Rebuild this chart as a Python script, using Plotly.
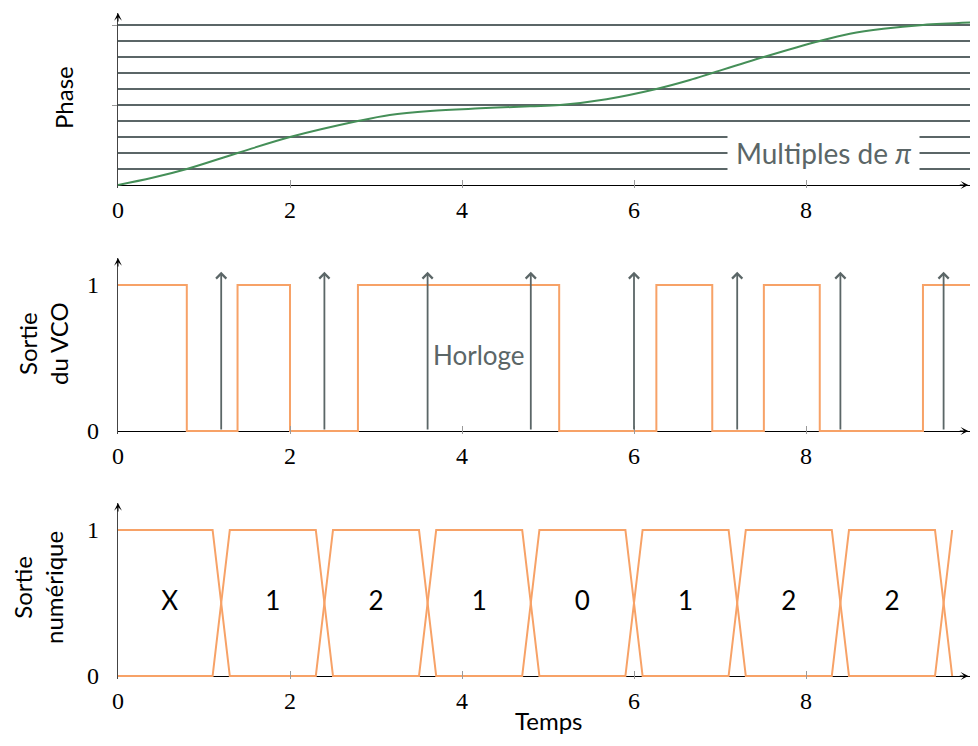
import plotly.graph_objects as go

# la page ajoute une marge de 8 px autour du graphique
OFF = 8
W, H = 978 - 2 * OFF, 746 - 2 * OFF
X0, XSCALE = 118, 86  # position de t=0 et pixels par unite (reference)

# ---- data ----
temps_ticks = [0, 2, 4, 6, 8]

phase_t = [0, 0.4, 0.80, 1.39, 2.0, 2.79, 3.16, 3.63, 4.21, 4.79, 5.14, 5.68,
           6.26, 6.65, 6.91, 7.51, 8.16, 8.51, 8.9, 9.36, 10]
phase_val = [0, 0.45, 1, 2, 3, 4, 4.38, 4.63, 4.79, 4.92, 5, 5.36,
             6, 6.56, 7, 8, 9, 9.45, 9.76, 10, 10.17]
multiples_pi = [1, 2, 3, 4, 5, 6, 7, 8, 9, 10]

# sortie du VCO (creneaux)
vco_t = [0, 0.80, 1.39, 2.0, 2.79, 5.13, 6.26, 6.91, 7.51, 8.16, 9.36, 10]
vco_level = [1, 0, 1, 0, 1, 0, 1, 0, 1, 0, 1, 1]

# fronts d'horloge
horloge_t = [1.2, 2.4, 3.6, 4.8, 6.0, 7.2, 8.4, 9.6]

# symboles de la sortie numerique
symboles = ["X", "1", "2", "1", "0", "1", "2", "2"]

# ---- styles ----
GRAY = "#5b6667"
ORANGE = "#f7a267"
GREEN = "#458f58"
SANS = "Lato"
SERIF = "Liberation Serif"
half = 0.1  # demi-largeur des transitions


def px(p):
    return (p - OFF) / W


def py(p):
    return 1 - (p - OFF) / H


x_end = (OFF + W - X0) / XSCALE  # bord droit visible

fig = go.Figure()

# -- panneau 1 : phase --
mx, my = [], []
for k in multiples_pi:
    mx += [0, 10, None]
    my += [k, k, None]
fig.add_trace(go.Scatter(x=mx, y=my, mode="lines", line=dict(color=GRAY, width=2),
                         xaxis="x", yaxis="y", hoverinfo="skip"))
fig.add_trace(go.Scatter(x=phase_t, y=phase_val, mode="lines",
                         line=dict(color=GREEN, width=2, shape="spline", smoothing=1),
                         xaxis="x", yaxis="y"))

# -- panneau 2 : VCO --
fig.add_trace(go.Scatter(x=vco_t, y=vco_level, mode="lines",
                         line=dict(color=ORANGE, width=2, shape="hv"),
                         xaxis="x2", yaxis="y2"))

# -- panneau 3 : diagramme de l'oeil --
for start in (1, 0):
    ex, ey = [0], [start]
    lvl = start
    for t in horloge_t:
        ex += [t - half, t + half]
        ey += [lvl, 1 - lvl]
        lvl = 1 - lvl
    fig.add_trace(go.Scatter(x=ex, y=ey, mode="lines", line=dict(color=ORANGE, width=2),
                             xaxis="x3", yaxis="y3"))

cells = [0] + horloge_t
sym_x = [(cells[i] + cells[i + 1]) / 2 for i in range(len(symboles))]
fig.add_trace(go.Scatter(x=sym_x, y=[0.5] * len(symboles), mode="text", text=symboles,
                         textfont=dict(family=SANS, size=26, color="black"),
                         xaxis="x3", yaxis="y3"))

annotations = []
# fleches d'horloge
for t in horloge_t:
    annotations.append(dict(x=t, y=1.09, ax=t, ay=0, xref="x2", yref="y2",
                            axref="x2", ayref="y2", text="", showarrow=True,
                            arrowhead=4, arrowwidth=1.8, arrowsize=1.1,
                            arrowcolor=GRAY, standoff=0))

annotations.append(dict(x=4.2, y=0.52, xref="x2", yref="y2", text="Horloge",
                        showarrow=False, font=dict(family=SANS, size=26, color=GRAY)))
annotations.append(dict(x=8.2, y=2, xref="x", yref="y", text="Multiples de <i>π</i>",
                        showarrow=False, bgcolor="white", borderpad=8,
                        font=dict(family=SANS, size=28, color=GRAY)))

# axes (bas, haut de chaque panneau en pixels de la reference)
panels = [("", 185, 13, 16), ("2", 431, 258, 146), ("3", 676, 503, 146)]
layout_axes = {}
for suf, y0, ytop, scale in panels:
    bottom = y0 + 3
    yr = [-(bottom - y0) / scale, (y0 - ytop) / scale]
    layout_axes["xaxis" + suf] = dict(
        domain=[px(X0), 1], range=[0, x_end], anchor="y" + suf, automargin=False,
        tickvals=temps_ticks, ticks="inside", ticklen=8, tickcolor="#9a9a9a",
        tickfont=dict(family=SERIF, size=24, color="black"),
        showline=False, showgrid=False, zeroline=False, ticklabelstandoff=5)
    ya = dict(domain=[py(bottom), py(ytop)], range=yr, anchor="x" + suf,
              automargin=False,
              showline=True, linecolor="#444", linewidth=1.3,
              showgrid=False, zeroline=True, zerolinecolor="black", zerolinewidth=1.2,
              tickfont=dict(family=SERIF, size=24, color="black"))
    if suf == "":
        ya.update(tickvals=[5, 10], ticktext=["", ""], ticks="outside",
                  ticklen=5, tickcolor="#9a9a9a")
    else:
        ya.update(tickvals=[0, 1], ticks="", ticklabelstandoff=13)
    layout_axes["yaxis" + suf] = ya
    # fleches des axes
    annotations.append(dict(x=0, y=yr[1], xref="x" + suf, yref="y" + suf, ax=0, ay=10,
                            text="", showarrow=True, arrowhead=3, arrowwidth=1,
                            arrowsize=1.3, arrowcolor="black", standoff=0))
    annotations.append(dict(x=x_end - 0.02, y=0, xref="x" + suf, yref="y" + suf,
                            ax=-10, ay=0, text="", showarrow=True, arrowhead=3,
                            arrowwidth=1, arrowsize=1.3, arrowcolor="black", standoff=0))

# titres des axes
title_font = dict(family=SANS, size=24, color="black")
for x_px, y_px, txt, angle in [(63, 98, "Phase", -90),
                               (43, 344, "Sortie<br>du VCO", -90),
                               (38, 588, "Sortie<br>numérique", -90),
                               (549, 720, "Temps", 0)]:
    annotations.append(dict(x=px(x_px), y=py(y_px), xref="paper", yref="paper",
                            xanchor="center", yanchor="middle", text=txt,
                            textangle=angle, showarrow=False, font=title_font))

fig.update_layout(
    width=W, height=H,
    margin=dict(l=0, r=0, t=0, b=0),
    paper_bgcolor="white", plot_bgcolor="white",
    showlegend=False,
    annotations=annotations,
    **layout_axes
)

fig.write_html("out.html")
